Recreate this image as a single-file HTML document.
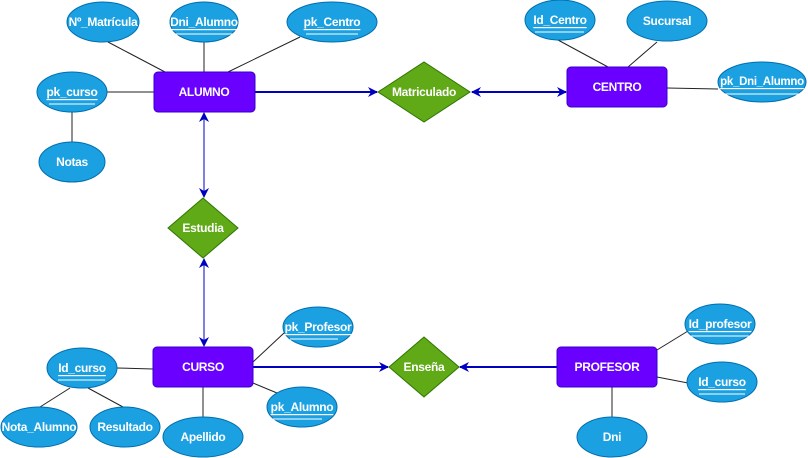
<!DOCTYPE html>
<html><head><meta charset="utf-8"><style>
html,body{margin:0;padding:0;background:#fff;}
svg{display:block;}
text{font-family:"Liberation Sans",Arial,sans-serif;font-size:12px;font-weight:bold;letter-spacing:-0.3px;fill:#fff;text-anchor:middle;dominant-baseline:central;}
.u{text-decoration:underline;}
</style></head><body>
<svg width="808" height="458" viewBox="0 0 808 458" xmlns="http://www.w3.org/2000/svg">
<defs>
<marker id="a" markerWidth="10" markerHeight="10" refX="9" refY="5" orient="auto" markerUnits="userSpaceOnUse"><path d="M0,0 L10,5 L0,10 L3,5 Z" fill="#0000c0"/></marker>
<marker id="b" markerWidth="10" markerHeight="10" refX="1" refY="5" orient="auto" markerUnits="userSpaceOnUse"><path d="M10,0 L0,5 L10,10 L7,5 Z" fill="#0000c0"/></marker>
</defs>
<g stroke="#222" stroke-width="1">
<line x1="108" y1="42" x2="165" y2="72"/>
<line x1="204" y1="42" x2="204" y2="72"/>
<line x1="300" y1="37" x2="228" y2="72"/>
<line x1="107" y1="92" x2="154" y2="92"/>
<line x1="72" y1="112" x2="72" y2="143"/>
<line x1="558" y1="40" x2="608" y2="67"/>
<line x1="657" y1="42" x2="628" y2="67"/>
<line x1="667" y1="88" x2="718" y2="89"/>
<line x1="117" y1="368" x2="153" y2="369"/>
<line x1="70" y1="388" x2="40" y2="407"/>
<line x1="88" y1="388" x2="123" y2="407"/>
<line x1="203" y1="387" x2="203" y2="417"/>
<line x1="253" y1="362" x2="284" y2="333"/>
<line x1="253" y1="383" x2="277" y2="393"/>
<line x1="657" y1="350" x2="688" y2="331"/>
<line x1="657" y1="377" x2="688" y2="383"/>
<line x1="612" y1="387" x2="612" y2="417"/>
</g>
<g stroke="#0000c0" fill="none">
<line x1="255" y1="92" x2="377" y2="92" stroke-width="2" marker-end="url(#a)"/>
<line x1="472" y1="92" x2="566" y2="92" stroke-width="2" marker-start="url(#b)" marker-end="url(#a)"/>
<line x1="204" y1="113" x2="204" y2="197" stroke-width="1" marker-start="url(#b)" marker-end="url(#a)"/>
<line x1="204" y1="259" x2="204" y2="346" stroke-width="1" marker-start="url(#b)" marker-end="url(#a)"/>
<line x1="253" y1="367" x2="388" y2="367" stroke-width="2" marker-end="url(#a)"/>
<line x1="557" y1="367" x2="460" y2="367" stroke-width="2" marker-end="url(#a)"/>
</g>
<g fill="#1ba1e2" stroke="#006eaf" stroke-width="1">
<ellipse cx="103" cy="22" rx="36" ry="20"/>
<ellipse cx="204" cy="22" rx="34" ry="20"/>
<ellipse cx="332" cy="22" rx="45" ry="20"/>
<ellipse cx="72" cy="92" rx="35" ry="20"/>
<ellipse cx="72" cy="162" rx="33" ry="20"/>
<ellipse cx="560" cy="20" rx="35" ry="20"/>
<ellipse cx="667" cy="21" rx="40" ry="20"/>
<ellipse cx="762" cy="82" rx="44" ry="20"/>
<ellipse cx="82" cy="368" rx="35" ry="20"/>
<ellipse cx="39" cy="427" rx="38" ry="20"/>
<ellipse cx="125" cy="427" rx="35" ry="20"/>
<ellipse cx="203" cy="437" rx="40" ry="20"/>
<ellipse cx="318" cy="327" rx="35" ry="20"/>
<ellipse cx="302" cy="407" rx="35" ry="20"/>
<ellipse cx="720" cy="324" rx="35" ry="20"/>
<ellipse cx="722" cy="382" rx="35" ry="20"/>
<ellipse cx="612" cy="437" rx="35" ry="20"/>
</g>
<g fill="#6a00ff" stroke="#3700cc" stroke-width="1">
<rect x="154" y="72" width="101" height="40" rx="4"/>
<rect x="567" y="67" width="100" height="40" rx="4"/>
<rect x="153" y="347" width="100" height="40" rx="4"/>
<rect x="557" y="347" width="100" height="40" rx="4"/>
</g>
<g fill="#60a917" stroke="#2d7600" stroke-width="1">
<polygon points="378,92 424,62 470,92 424,122"/>
<polygon points="168,228 203,198 238,228 203,258"/>
<polygon points="389,367 424,337 459,367 424,397"/>
</g>
<g stroke="#fff" stroke-width="1">
<line x1="175" y1="34" x2="233" y2="34"/>
<line x1="306" y1="34" x2="358" y2="34"/>
<line x1="49" y1="104" x2="95" y2="104"/>
<line x1="535" y1="32" x2="584" y2="32"/>
<line x1="719" y1="94" x2="805" y2="94"/>
<line x1="58" y1="380" x2="105" y2="380"/>
<line x1="290" y1="339" x2="338" y2="339"/>
<line x1="272" y1="419" x2="322" y2="419"/>
<line x1="690" y1="336" x2="750" y2="336"/>
<line x1="699" y1="394" x2="745" y2="394"/>
</g>
<text x="103" y="22">Nº_Matrícula</text>
<text x="204" y="22" class="u">Dni_Alumno</text>
<text x="332" y="22" class="u">pk_Centro</text>
<text x="72" y="92" class="u">pk_curso</text>
<text x="72" y="162">Notas</text>
<text x="560" y="20" class="u">Id_Centro</text>
<text x="667" y="21">Sucursal</text>
<text x="762" y="82" class="u" style="font-size:11.5px">pk_Dni_Alumno</text>
<text x="82" y="368" class="u">Id_curso</text>
<text x="39" y="427">Nota_Alumno</text>
<text x="125" y="427">Resultado</text>
<text x="203" y="437">Apellido</text>
<text x="318" y="327" class="u">pk_Profesor</text>
<text x="302" y="407" class="u">pk_Alumno</text>
<text x="720" y="324" class="u">Id_profesor</text>
<text x="722" y="382" class="u">Id_curso</text>
<text x="612" y="437">Dni</text>
<text x="204" y="92">ALUMNO</text>
<text x="617" y="87">CENTRO</text>
<text x="203" y="367">CURSO</text>
<text x="607" y="367">PROFESOR</text>
<text x="424" y="92">Matriculado</text>
<text x="203" y="228">Estudia</text>
<text x="424" y="367">Enseña</text>
</svg>
</body></html>
